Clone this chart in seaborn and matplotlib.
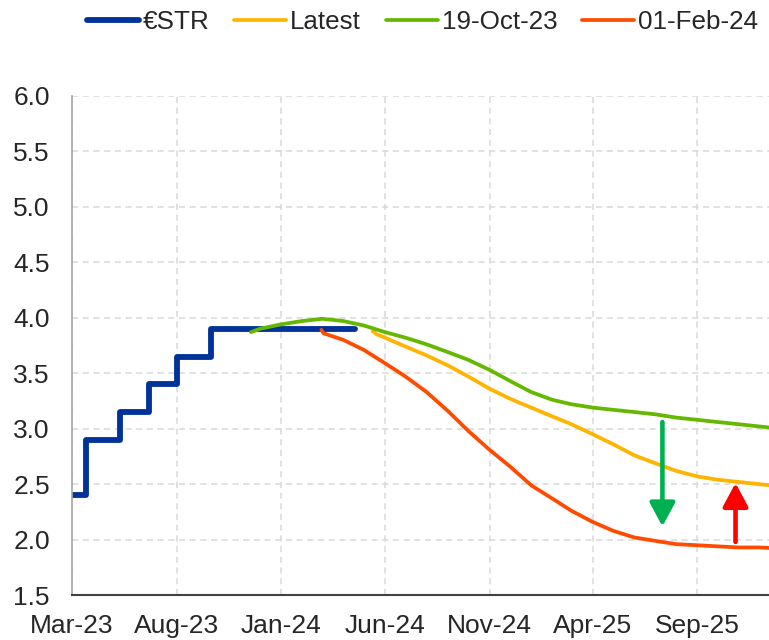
import matplotlib
matplotlib.use("Agg")
import matplotlib.pyplot as plt
import pandas as pd
import seaborn as sns

# €STR realised path (step changes)
estr_dates = ["2023-03-01", "2023-03-22", "2023-05-10", "2023-06-21", "2023-08-02", "2023-09-20", "2024-04-18"]
estr_values = [2.40, 2.90, 3.15, 3.40, 3.65, 3.90, 3.90]

# forward curves, monthly points
month_starts = pd.date_range("2023-12-01", "2026-01-01", freq="MS").strftime("%Y-%m-%d").tolist()

oct23_dates = ["2023-11-18"] + month_starts
oct23_values = [3.87, 3.90, 3.94, 3.97, 3.99, 3.97, 3.93, 3.87, 3.82, 3.76, 3.69, 3.62, 3.53, 3.43,
                3.33, 3.26, 3.22, 3.19, 3.17, 3.15, 3.13, 3.10, 3.08, 3.06, 3.04, 3.02, 3.00]

feb24_dates = ["2024-02-29", "2024-03-03"] + month_starts[4:]
feb24_values = [3.89, 3.86, 3.80, 3.71, 3.59, 3.47, 3.33, 3.16, 2.98, 2.81, 2.66, 2.49, 2.37, 2.26,
                2.16, 2.08, 2.02, 1.99, 1.96, 1.95, 1.94, 1.93, 1.93, 1.92]

latest_dates = ["2024-05-14", "2024-05-20"] + month_starts[6:]
latest_values = [3.88, 3.85, 3.82, 3.74, 3.66, 3.57, 3.47, 3.36, 3.27, 3.19, 3.11, 3.04, 2.95, 2.86,
                 2.76, 2.69, 2.62, 2.57, 2.54, 2.52, 2.50, 2.48]

# arrows: (date, from, to)
arrow_down = ("2025-07-12", 3.06, 2.12)
arrow_up = ("2025-10-27", 1.98, 2.51)

tick_labels = ["Mar-23", "Aug-23", "Jan-24", "Jun-24", "Nov-24", "Apr-25", "Sep-25"]

colors = {"€STR": "#003299", "Latest": "#FFB400", "19-Oct-23": "#65B800", "01-Feb-24": "#FF4B00"}
FS = 19
LEG_FS = 18.7

sns.set_style("white")
plt.rcParams["font.family"] = ["Liberation Sans", "DejaVu Sans"]
plt.rcParams["font.size"] = FS

fig = plt.figure(figsize=(7.69, 6.4), dpi=100)
ax = fig.add_axes([0.0936, 0.07, 1 - 0.0936, 0.7805])

line_kw = dict(solid_capstyle="round", solid_joinstyle="round")
sns.lineplot(x=pd.to_datetime(estr_dates), y=estr_values, ax=ax, color=colors["€STR"], lw=4.2,
             drawstyle="steps-post", label="€STR", **line_kw)
sns.lineplot(x=pd.to_datetime(latest_dates), y=latest_values, ax=ax, color=colors["Latest"], lw=2.7,
             label="Latest", **line_kw)
sns.lineplot(x=pd.to_datetime(oct23_dates), y=oct23_values, ax=ax, color=colors["19-Oct-23"], lw=2.7,
             label="19-Oct-23", **line_kw)
sns.lineplot(x=pd.to_datetime(feb24_dates), y=feb24_values, ax=ax, color=colors["01-Feb-24"], lw=2.7,
             label="01-Feb-24", **line_kw)

for (d, y0, y1), c in [(arrow_down, "#00B050"), (arrow_up, "#FF0000")]:
    ax.annotate("", xy=(pd.Timestamp(d), y1), xytext=(pd.Timestamp(d), y0),
                arrowprops=dict(arrowstyle="-|>,head_length=0.65,head_width=0.35", lw=3.3, color=c,
                                mutation_scale=22, shrinkA=0, shrinkB=0))

ax.set_xlim(pd.Timestamp("2023-03-01"), pd.Timestamp("2025-12-15"))
ax.set_ylim(1.5, 6.0)
ax.set_yticks([1.5 + 0.5 * i for i in range(10)])
ax.yaxis.set_major_formatter(plt.FormatStrFormatter("%.1f"))
tick_dates = pd.date_range("2023-03-01", periods=len(tick_labels), freq="5MS")
ax.set_xticks(tick_dates)
ax.set_xticklabels(tick_labels)
ax.set_xlabel("")
ax.set_ylabel("")

ax.grid(True, color="#D9D9D9", linestyle=(0, (4, 3)), lw=1.1)
ax.set_axisbelow(True)
for s in ["top", "right"]:
    ax.spines[s].set_visible(False)
ax.spines["left"].set_color("#A6A6A6")
ax.spines["left"].set_linewidth(1.2)
ax.spines["bottom"].set_color("#404040")
ax.spines["bottom"].set_linewidth(1.5)
ax.tick_params(axis="y", length=0, pad=16, labelsize=FS)
ax.tick_params(axis="x", direction="inout", length=11, width=1.3, color="#404040", pad=8, labelsize=FS)

handles, labels = ax.get_legend_handles_labels()
ax.get_legend().remove()
fig.legend(handles, labels, loc="center", bbox_to_anchor=(0.5494, 0.966), ncol=4, frameon=False,
           handlelength=2.0, handletextpad=0.15, columnspacing=0.95, fontsize=LEG_FS)

fig.savefig("out.png", dpi=100)
